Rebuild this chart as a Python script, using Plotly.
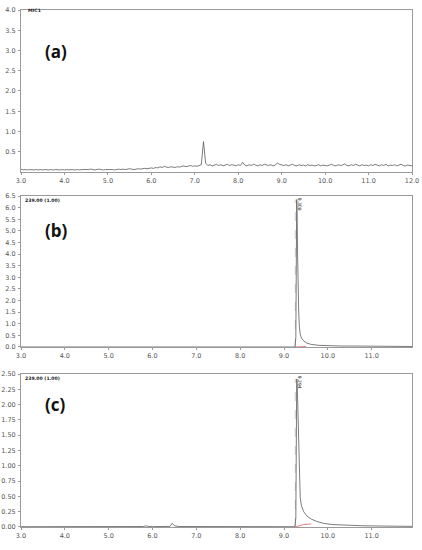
import plotly.graph_objects as go
from plotly.subplots import make_subplots

# (a) TIC, sampled every 0.05 min from 3.0 min
tic_start = 3.0
tic_step = 0.05
tic_a = [
    0.07, 0.05, 0.06, 0.05, 0.06, 0.05, 0.05, 0.06, 0.05, 0.06, 0.05, 0.06, 0.05, 0.05, 0.06, 0.05, 0.06, 0.05, 0.05, 0.06,
    0.05, 0.06, 0.05, 0.06, 0.05, 0.05, 0.06, 0.05, 0.06, 0.06, 0.05, 0.06, 0.07, 0.06, 0.05, 0.06, 0.07, 0.06, 0.05, 0.06,
    0.06, 0.07, 0.06, 0.05, 0.06, 0.07, 0.06, 0.07, 0.06, 0.07, 0.08, 0.07, 0.06, 0.07, 0.08, 0.07, 0.08, 0.09, 0.08, 0.09,
    0.10, 0.09, 0.11, 0.10, 0.13, 0.11, 0.14, 0.12, 0.11, 0.13, 0.12, 0.11, 0.13, 0.12, 0.14, 0.15, 0.13, 0.14, 0.16, 0.14,
    0.15, 0.14, 0.16, 0.18, 0.75, 0.22, 0.16, 0.18, 0.15, 0.17, 0.19, 0.16, 0.18, 0.15, 0.17, 0.19, 0.16, 0.18, 0.17, 0.15,
    0.18, 0.16, 0.24, 0.17, 0.15, 0.18, 0.16, 0.19, 0.17, 0.15, 0.18, 0.16, 0.19, 0.17, 0.16, 0.18, 0.15, 0.17, 0.22, 0.19,
    0.17, 0.16, 0.18, 0.15, 0.17, 0.19, 0.16, 0.15, 0.18, 0.16, 0.17, 0.15, 0.18, 0.16, 0.17, 0.15, 0.16, 0.18, 0.15, 0.17,
    0.16, 0.15, 0.17, 0.19, 0.16, 0.15, 0.18, 0.16, 0.17, 0.20, 0.16, 0.15, 0.18, 0.16, 0.19, 0.17, 0.15, 0.18, 0.16, 0.17,
    0.15, 0.18, 0.16, 0.19, 0.17, 0.15, 0.18, 0.16, 0.19, 0.15, 0.17, 0.16, 0.18, 0.15, 0.17, 0.19, 0.16, 0.15, 0.17, 0.16,
    0.15,
]
time_a = [round(tic_start + i * tic_step, 2) for i in range(len(tic_a))]

# (b) m/z 239 chromatogram
time_b = [3.0, 5.0, 7.0, 9.0, 9.25, 9.27, 9.28, 9.29, 9.30, 9.31, 9.32, 9.335, 9.35, 9.37,
          9.40, 9.45, 9.52, 9.62, 9.8, 10.0, 10.3, 10.6, 11.0, 11.5, 11.95]
int_b = [0.0, 0.0, 0.0, 0.0, 0.0, 0.4, 3.2, 6.35, 5.6, 4.0, 2.6, 1.5, 0.9, 0.55,
         0.38, 0.26, 0.17, 0.11, 0.07, 0.05, 0.04, 0.04, 0.03, 0.02, 0.02]
base_b_x = [9.26, 9.50]
base_b_y = [0.0, 0.02]
peak_b_rt = 9.258
peak_b_top = 6.35
peak_b_label = "9.308"

# (c) m/z 239 chromatogram
time_c = [3.0, 5.0, 5.8, 5.85, 5.9, 6.0, 6.4, 6.45, 6.5, 6.6, 7.0, 8.0, 9.0, 9.25, 9.27,
          9.28, 9.29, 9.30, 9.31, 9.32, 9.335, 9.35, 9.37, 9.40, 9.45, 9.52, 9.62, 9.75,
          9.9, 10.1, 10.4, 10.8, 11.3, 11.95]
int_c = [0.005, 0.005, 0.008, 0.02, 0.01, 0.006, 0.01, 0.06, 0.02, 0.008, 0.006, 0.005,
         0.005, 0.005, 0.15, 1.2, 2.42, 2.35, 2.1, 1.75, 1.2, 0.75, 0.48, 0.34, 0.25, 0.18,
         0.13, 0.09, 0.06, 0.04, 0.03, 0.02, 0.015, 0.01]
base_c_x = [9.26, 9.45, 9.62]
base_c_y = [0.0, 0.04, 0.05]
peak_c_rt = 9.258
peak_c_top = 2.42
peak_c_label = "9.294"

LINE = "#5a5a5a"
AXIS = "#9a9a9a"
TICKFONT = dict(family="DejaVu Sans", size=6.5, color="#555555")

fig = make_subplots(rows=3, cols=1, vertical_spacing=0.05)

fig.add_trace(go.Scatter(x=time_a, y=tic_a, mode="lines",
                         line=dict(color=LINE, width=0.8)), row=1, col=1)

for r, tx, ty, bx, by, rt, top in [
    (2, time_b, int_b, base_b_x, base_b_y, peak_b_rt, peak_b_top),
    (3, time_c, int_c, base_c_x, base_c_y, peak_c_rt, peak_c_top),
]:
    fig.add_trace(go.Scatter(x=[rt, rt], y=[0, top], mode="lines",
                             line=dict(color="#aaaaaa", width=0.6, dash="dash")), row=r, col=1)
    fig.add_trace(go.Scatter(x=tx, y=ty, mode="lines",
                             line=dict(color=LINE, width=0.8)), row=r, col=1)
    fig.add_trace(go.Scatter(x=bx, y=by, mode="lines",
                             line=dict(color="#e06060", width=0.8)), row=r, col=1)

domains = [[0.6867, 1.0], [0.3482, 0.6402], [0.0, 0.2959]]
y_ranges = [[0, 4.0], [0, 6.5], [0, 2.5]]
y_ticks = [
    [0.5, 1.0, 1.5, 2.0, 2.5, 3.0, 3.5, 4.0],
    [0.0, 0.5, 1.0, 1.5, 2.0, 2.5, 3.0, 3.5, 4.0, 4.5, 5.0, 5.5, 6.0, 6.5],
    [0.0, 0.25, 0.5, 0.75, 1.0, 1.25, 1.5, 1.75, 2.0, 2.25, 2.5],
]
y_fmt = [".1f", ".1f", ".2f"]
x_ranges = [[3.0, 12.0], [3.0, 11.92], [3.0, 11.92]]
x_ticks = [[3, 4, 5, 6, 7, 8, 9, 10, 11, 12], [3, 4, 5, 6, 7, 8, 9, 10, 11], [3, 4, 5, 6, 7, 8, 9, 10, 11]]

for i in range(3):
    fig.update_yaxes(row=i + 1, col=1, domain=domains[i], range=y_ranges[i],
                     tickvals=y_ticks[i], tickformat=y_fmt[i], tickfont=TICKFONT,
                     showgrid=False, zeroline=False, showline=True, mirror=True,
                     linecolor=AXIS, linewidth=1, ticks="outside", ticklen=2,
                     tickcolor=AXIS, ticklabelstandoff=1, automargin=False)
    fig.update_xaxes(row=i + 1, col=1, range=x_ranges[i], tickvals=x_ticks[i],
                     tickformat=".1f", tickfont=TICKFONT, showgrid=False,
                     zeroline=False, showline=True, mirror=True, linecolor=AXIS,
                     linewidth=1, ticks="outside", ticklen=2, tickcolor=AXIS,
                     automargin=False)

small = dict(family="DejaVu Sans", size=4.6, color="#222222")
panel = dict(family="Open Sans", size=17, color="#111111")
annos = [
    dict(x=0.012, y=1.0, xref="paper", yref="paper", text="<b>MIC1</b>",
         font=small, xanchor="left", yanchor="middle"),
    dict(x=0.004, y=0.6402, xref="paper", yref="paper", text="<b>239.00 (1.00)</b>",
         font=small, xanchor="left", yanchor="top"),
    dict(x=0.004, y=0.2959, xref="paper", yref="paper", text="<b>239.00 (1.00)</b>",
         font=small, xanchor="left", yanchor="top"),
    dict(x=0.055, y=0.92, xref="paper", yref="paper", text="<b>(a)</b>", font=panel,
         xanchor="left", yanchor="middle"),
    dict(x=0.055, y=0.574, xref="paper", yref="paper", text="<b>(b)</b>", font=panel,
         xanchor="left", yanchor="middle"),
    dict(x=0.055, y=0.237, xref="paper", yref="paper", text="<b>(c)</b>", font=panel,
         xanchor="left", yanchor="middle"),
    dict(x=9.36, y=6.5, xref="x2", yref="y2", text=peak_b_label, textangle=90,
         font=dict(family="DejaVu Sans", size=4.5, color="#222222"),
         yanchor="top", xanchor="center"),
    dict(x=9.36, y=2.5, xref="x3", yref="y3", text=peak_c_label, textangle=90,
         font=dict(family="DejaVu Sans", size=4.5, color="#222222"),
         yanchor="top", xanchor="center"),
]
for a in annos:
    a.setdefault("showarrow", False)
    fig.add_annotation(**a)

fig.update_layout(
    width=422,
    height=550,
    margin=dict(l=21, r=10, t=10, b=23),
    plot_bgcolor="white",
    paper_bgcolor="white",
    showlegend=False,
)

# drop the browser's default body margin so the figure fills the window
fig.write_html("out.html", config={"displayModeBar": False},
               post_script="document.body.style.margin='0';")
